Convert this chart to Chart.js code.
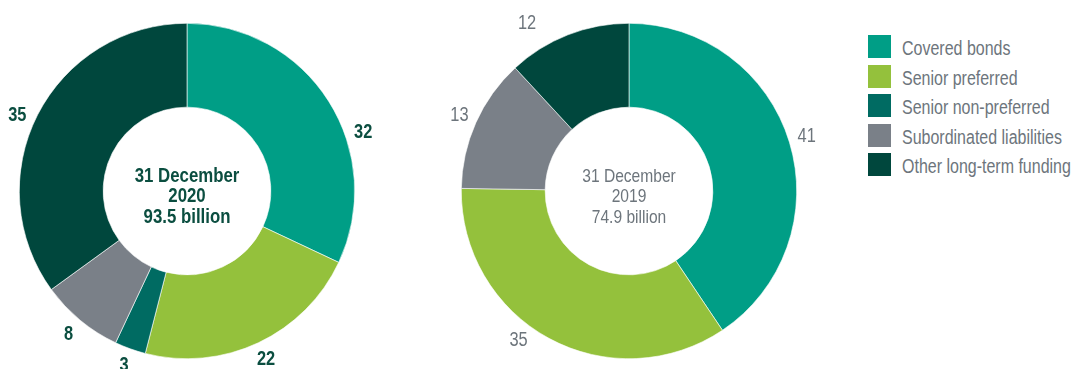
<!doctype html>
<html>
<head>
<meta charset="utf-8">
<title>Long-term funding</title>
<script src="https://cdn.jsdelivr.net/npm/chart.js@4.4.1/dist/chart.umd.min.js"></script>
<style>
    html, body {
        margin: 0;
        width: 1076px;
        height: 369px;
        background: #fff;
        overflow: hidden;
    }
    .pie {
        position: absolute;
        top: 0;
        width: 374px;
        height: 369px;
    }
    #pie2020 { left: 0; }
    #pie2019 { left: 442px; }
    #legend {
        position: absolute;
        left: 868px;
        top: 35px;
        font-family: "Liberation Sans", Arial, sans-serif;
        font-size: 19.5px;
        color: #6d757c;
        white-space: nowrap;
    }
    #legend div {
        height: 29.5px;
        display: flex;
        align-items: flex-start;
    }
    #legend span.box {
        display: inline-block;
        width: 23px;
        height: 23px;
        margin-right: 11px;
        flex: none;
    }
    /* narrow face faked by squeezing the text horizontally */
    #legend span.txt {
        line-height: 23px;
        padding-top: 2px;
        display: inline-block;
        transform: scaleX(0.82);
        transform-origin: left center;
    }
</style>
</head>
<body>
<div class="pie" id="pie2020"><canvas id="c2020"></canvas></div>
<div class="pie" id="pie2019"><canvas id="c2019"></canvas></div>
<div id="legend"></div>

<script>
var categories = ['Covered bonds', 'Senior preferred', 'Senior non-preferred', 'Subordinated liabilities', 'Other long-term funding'];
var values2020 = [32, 22, 3, 8, 35];
var values2019 = [41, 35, 0, 13, 12];
var centre2020 = ['31 December', '2020', '93.5 billion'];
var centre2019 = ['31 December', '2019', '74.9 billion'];
var colours = ['#009e86', '#94c13c', '#006b62', '#7a8088', '#00473d'];

var FONT = '"Liberation Sans", Arial, sans-serif';
var SQUEEZE = 0.82;

// legend
var legend = document.getElementById('legend');
categories.forEach(function (name, i) {
    var row = document.createElement('div');
    row.innerHTML = '<span class="box" style="background:' + colours[i] + '"></span><span class="txt">' + name + '</span>';
    legend.appendChild(row);
});

function narrowText(ctx, text, x, y) {
    ctx.save();
    ctx.translate(x, y);
    ctx.scale(SQUEEZE, 1);
    ctx.fillText(text, 0, 0);
    ctx.restore();
}

// value labels outside the ring + text in the hole
var ringText = {
    id: 'ringText',
    afterDatasetsDraw: function (chart, args, opts) {
        var ctx = chart.ctx;
        var arcs = chart.getDatasetMeta(0).data;
        var values = chart.data.datasets[0].data;
        ctx.save();
        ctx.fillStyle = opts.color;
        ctx.textAlign = 'center';
        ctx.textBaseline = 'middle';
        ctx.font = opts.weight + ' ' + opts.labelSize + 'px ' + FONT;
        arcs.forEach(function (arc, i) {
            if (!values[i]) return;
            var a = (arc.startAngle + arc.endAngle) / 2 + (opts.nudge[i] || 0) * Math.PI / 180;
            var r = arc.outerRadius + opts.gap + (opts.push[i] || 0);
            narrowText(ctx, String(values[i]), arc.x + Math.cos(a) * r, arc.y + Math.sin(a) * r);
        });
        var cx = arcs[0].x, cy = arcs[0].y;
        ctx.font = opts.weight + ' ' + opts.centreSize + 'px ' + FONT;
        ctx.textBaseline = 'alphabetic';
        opts.lines.forEach(function (line, k) {
            narrowText(ctx, line, cx, cy + 1 + (k - 0.5) * 20.5);
        });
        ctx.restore();
    }
};

function makePie(id, values, textOpts) {
    return new Chart(document.getElementById(id), {
        type: 'doughnut',
        data: {
            labels: categories,
            datasets: [{
                data: values,
                backgroundColor: colours,
                borderColor: '#fff',
                borderWidth: 0.6
            }]
        },
        options: {
            responsive: true,
            maintainAspectRatio: false,
            animation: false,
            cutout: '50%',
            layout: { padding: { top: 23, bottom: 10, left: 19, right: 19 } },
            plugins: {
                legend: { display: false },
                tooltip: { enabled: false },
                ringText: textOpts
            }
        },
        plugins: [ringText]
    });
}

makePie('c2020', values2020, {
    color: '#0b4e40', weight: 'bold', labelSize: 20, centreSize: 20.5, gap: 18,
    nudge: [14, 0, 0, 0, -3], push: [], lines: centre2020
});
makePie('c2019', values2019, {
    color: '#6d757c', weight: 'normal', labelSize: 20, centreSize: 19, gap: 18,
    nudge: [0, 8, 0, 0, -10], push: [0, 0, 0, 0, 10], lines: centre2019
});
</script>
</body>
</html>
